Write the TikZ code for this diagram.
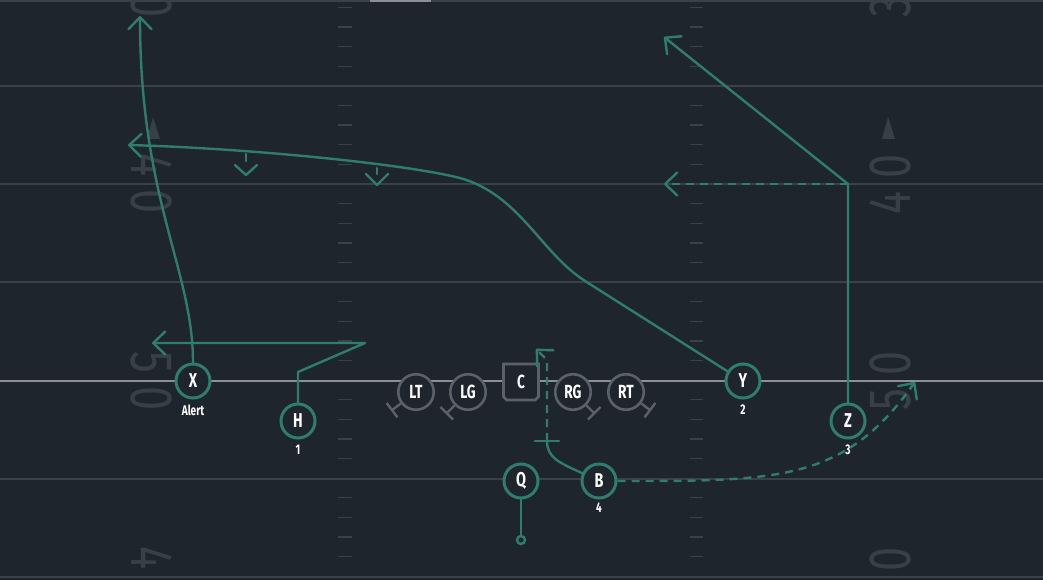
\documentclass[tikz,border=0pt]{standalone}
\usepackage{fontspec}
\usetikzlibrary{arrows.meta,shapes.misc}
\newfontfamily\labfont[FakeStretch=0.72]{Fira Sans}
\newfontfamily\yardfont[FakeStretch=0.72]{Fira Sans}
\definecolor{bg}{HTML}{1F252D}
\definecolor{fieldline}{HTML}{3A4149}
\definecolor{loscol}{HTML}{8A9096}
\definecolor{yardnum}{HTML}{383F47}
\definecolor{teal1}{HTML}{2F7D6D}
\definecolor{olgray}{HTML}{5C6167}
\begin{document}
\begin{tikzpicture}[x=1pt,y=-1pt,
  player/.style={circle, draw=teal1, line width=3pt, fill=bg, minimum size=34pt, inner sep=0pt, text=white, font=\labfont\bfseries\fontsize{20}{20}\selectfont},
  lineman/.style={circle, draw=olgray, line width=2.6pt, fill=bg, minimum size=35.5pt, inner sep=0pt, text=white, font=\labfont\bfseries\fontsize{19}{19}\selectfont},
  cbox/.style={chamfered rectangle, chamfered rectangle corners={south east,south west}, chamfered rectangle sep=1.6pt, draw=olgray, line width=2.6pt, fill=bg, minimum width=35pt, minimum height=36pt, inner sep=0pt, text=white, font=\labfont\bfseries\fontsize{19}{19}\selectfont},
  undertxt/.style={text=white, inner sep=0pt, font=\labfont\bfseries\fontsize{14}{14}\selectfont},
  qdot/.style={circle, draw=teal1, line width=2.4pt, fill=bg, minimum size=8pt, inner sep=0pt},
  rt/.style={draw=teal1, line width=2.4pt, line cap=round, line join=round},
  dsh/.style={dash pattern=on 8pt off 6pt, line cap=butt},
  tipped/.style={-{Straight Barb[length=12pt,width=23pt,round]}},
  blk/.style={draw=olgray, line width=2.4pt},
  yard/.style={text=yardnum, inner sep=0pt, font=\yardfont\fontsize{60}{60}\selectfont},
  fline/.style={draw=fieldline, line width=2.6pt},
  hash/.style={draw=fieldline, line width=1.4pt}
]
\useasboundingbox (0,0) rectangle (1043,580);
\begin{scope}
\clip (0,0) rectangle (1043,580);
\fill[bg] (0,0) rectangle (1043,580);
% field lines
\draw[fline] (0,1) -- (1043,1);
\draw[draw=loscol, line width=2pt] (370,1) -- (431,1);
\foreach \yy in {86,184,282,479,577} { \draw[fline] (0,\yy) -- (1043,\yy); }
\draw[draw=loscol, line width=2.6pt] (0,381) -- (1043,381);
% hash marks
\foreach \n in {-4,...,24} {
  \pgfmathtruncatemacro\m{mod(\n+5,5)}
  \ifnum\m=0\relax\else
    \draw[hash] (338,{86+19.6*\n}) -- (352,{86+19.6*\n});
    \draw[hash] (690,{86+19.6*\n}) -- (703,{86+19.6*\n});
  \fi
}
% yard numbers
\node[yard, rotate=-90] (l30) at (152,-12) {3\kern13pt 0};
\node[yard, rotate=-90] (l40) at (152,184) {4\kern13pt 0};
\node[yard, rotate=-90] (l50) at (152,381) {5\kern13pt 0};
\node[yard, rotate=-90] (l40b) at (152,577) {4\kern13pt 0};
\node[yard, rotate=90] (r30) at (890,-12) {3\kern13pt 0};
\node[yard, rotate=90] (r40) at (890,184) {4\kern13pt 0};
\node[yard, rotate=90] (r50) at (890,381) {5\kern13pt 0};
\node[yard, rotate=90] (r40b) at (890,577) {4\kern13pt 0};
\fill[yardnum] (147,139) -- (153,117) -- (160,139) -- cycle;
\fill[yardnum] (882,139) -- (888,117) -- (895,139) -- cycle;
\end{scope}

% players
\node[player] (X) at (193,381) {X};
\node[player] (H) at (298,421) {H};
\node[lineman] (LT) at (416,392) {LT};
\node[lineman] (LG) at (468,392) {LG};
\node[cbox] (C) at (521,382) {C};
\node[lineman] (RG) at (573,392) {RG};
\node[lineman] (RT) at (626,392) {RT};
\node[player] (Q) at (521,481) {Q};
\node[player] (B) at (599,481) {B};
\node[player] (Y) at (743,381) {Y};
\node[player] (Z) at (848,421) {Z};
\node[qdot] (qend) at (521,540) {};

% labels
\node[undertxt] (xl) at (193,410) {Alert};
\node[undertxt] (hl) at (298,450) {1};
\node[undertxt] (yl) at (743,410) {2};
\node[undertxt] (zl) at (848,450) {3};
\node[undertxt] (bl) at (599,508) {4};

% line blocks
\draw[blk] (LT.217) -- ++(217:11pt) ++(127:9pt) -- ++(-53:18pt);
\draw[blk] (LG.225) -- ++(225:11pt) ++(135:9pt) -- ++(-45:18pt);
\draw[blk] (RG.-45) -- ++(-45:11pt) ++(45:9pt) -- ++(-135:18pt);
\draw[blk] (RT.-37) -- ++(-37:11pt) ++(53:9pt) -- ++(-127:18pt);

% routes
\coordinate (xend) at (140,16);
\draw[rt, tipped] (X.north) .. controls (193,270) and (140,200) .. (xend);

\coordinate (h1) at (298,372);
\coordinate (h2) at (365,343);
\coordinate (hend) at (152,343);
\draw[rt, tipped] (H.north) -- (h1) -- (h2) -- (hend);

\coordinate (y1) at (585,281);
\coordinate (y2) at (460,178);
\coordinate (yend) at (128,145);
\draw[rt, tipped] (Y.148) -- (y1) .. controls (540,252) and (520,195) .. (y2) .. controls (400,163) and (240,148) .. (yend);
% option markers
\draw[rt] (246,154) -- (246,161);
\draw[rt] (235,165) -- (246,175) -- (257,165);
\draw[rt] (377,168) -- (377,174);
\draw[rt] (366,174) -- (377,185) -- (388,174);

\coordinate (zbreak) at (848,184);
\coordinate (zend) at (664,37);
\coordinate (zflat) at (664,184);
\draw[rt, tipped] (Z.north) -- (zbreak) -- (zend);
\draw[rt, dsh, tipped] (zbreak) -- (zflat);

\coordinate (bblk) at (547,441);
\coordinate (bup) at (547,360);
\coordinate (bend) at (536,349);
\draw[rt] (B.155) .. controls (560,463) and (547,458) .. (bblk);
\draw[rt] (535,441) -- (559,441);
\draw[rt, dsh, tipped] (bblk) -- (bup) -- (bend);

\coordinate (bwheel) at (915,382);
\draw[rt, dsh, tipped] (B.east) .. controls (778,481) and (844,482) .. (bwheel);

\draw[rt] (Q.south) -- (qend.north);
\end{tikzpicture}
\end{document}
